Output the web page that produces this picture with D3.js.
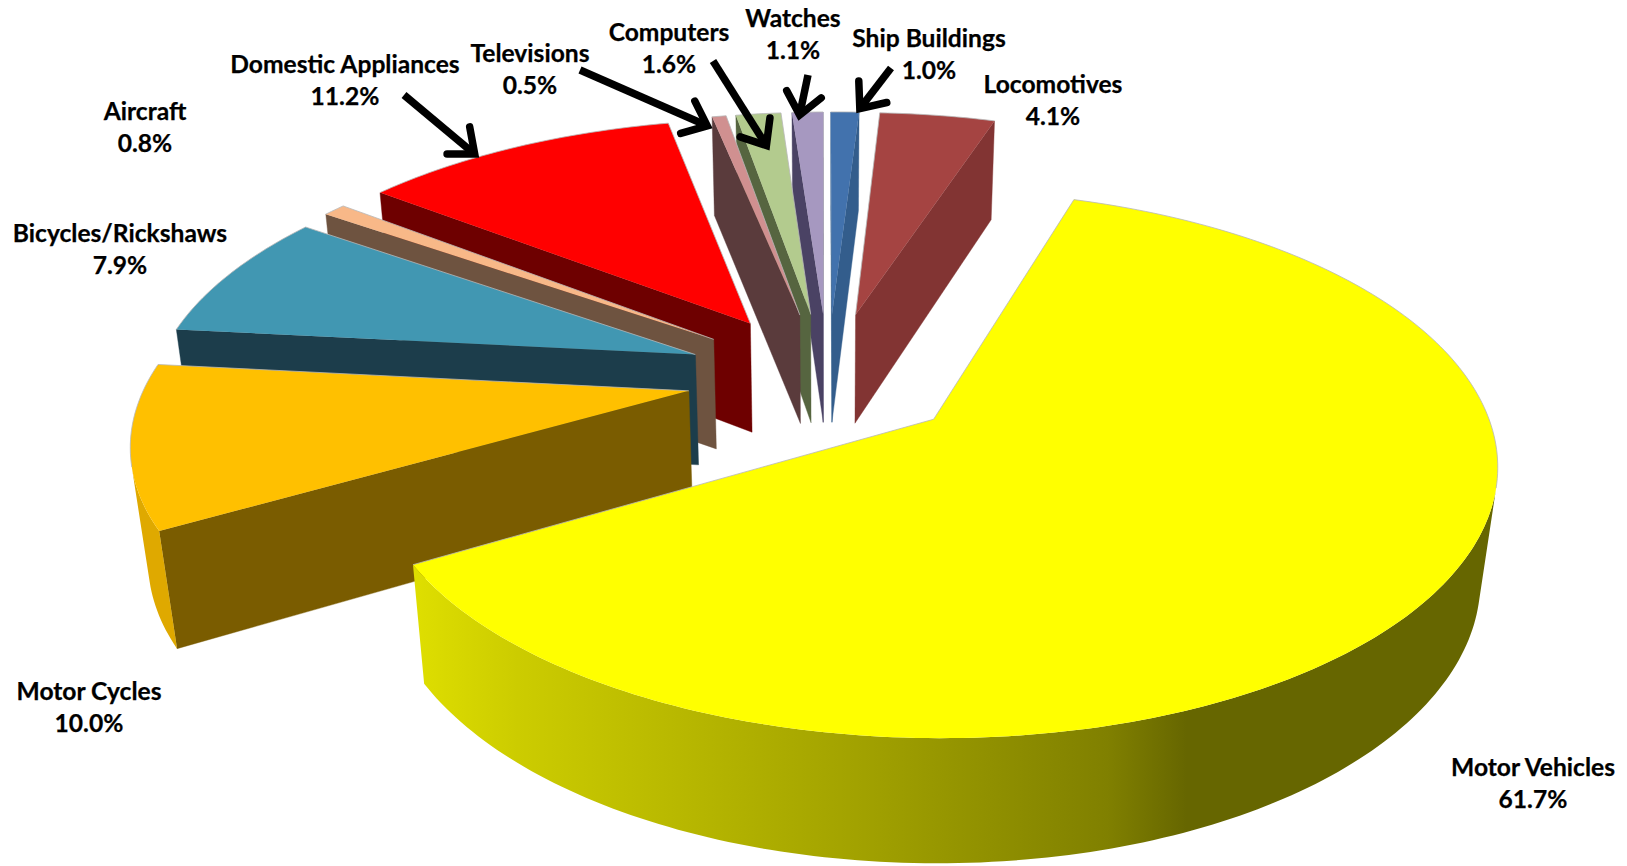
<!DOCTYPE html>
<html>
<head>
<meta charset="utf-8">
<script src="https://cdn.jsdelivr.net/npm/d3@7"></script>
<style>
html,body{margin:0;padding:0;background:#fff;overflow:hidden}
text{font-family:Lato,"Open Sans",sans-serif;font-weight:700;fill:#000;stroke:#000;stroke-width:0.25;text-anchor:middle}
</style>
</head>
<body>
<svg id="chart" width="1627" height="866"></svg>
<script>
// ---- data ----
const categories = ["Motor Vehicles","Motor Cycles","Bicycles/Rickshaws","Aircraft","Domestic Appliances","Televisions","Computers","Watches","Ship Buildings","Locomotives"];
const values = [61.7,10.0,7.9,0.8,11.2,0.5,1.6,1.1,1.0,4.1];

// ---- styles ----
const topColors  = ["#ffff00","#ffc000","#4197b2","#f8b888","#ff0000","#d09090","#b3cb8e","#a698c0","#4272ad","#a54442"];
const wallColors = ["#666600","#7a5c00","#1c3d4b","#6e5340","#6e0000","#5a3b3c","#566540","#4a4264","#335d8c","#823433"];
const rimColors  = ["url(#mvRim)","#dfa900","#2d7086","#b98a66","#b80000","#9a6a6a","#85976a","#7a7090","#305a88","#7a3030"];
const drawOrder  = [9,8,7,6,5,4,3,2,1,0];
const rimStops   = [412,518,872,1108,1187];
const rimStopColors = ["#dfdf00","#cccc00","#a0a000","#808000","#666600"];

// ---- label and arrow layout ----
const labelCx    = [1533,89,120,145,345,530,669,793,929,1053];
const labelBase  = [776,700,242,120,73,62,41,27,47,93];
const arrowTails = [[404,95],[580,70],[713,61],[808,75],[891,68]];
const arrowTips  = [[477,156],[710,127],[768,148],[799,118],[858,111]];

// ---- 3D projection ----
const cx=825, cy=377, a=541, b=252.8, k=0.16, m=0.025, d=114, explode=0.26;
const sliceShear = [0.022,0.012,0.012,0.012,0.012,0.012,0.012,0.012,0.012,0.012];
const sliceNudge = [-2,3,0,-1,-3,0,2,3,3,5];
const firstAngle = 17.6*Math.PI/180;
function project(u,v,z,i){
  const w=1+k*v+m*z;
  return [cx+sliceNudge[i]+a*(u+sliceShear[i]*v)/w, cy+(-b*v+d*z)/w];
}
const shoelace = pts => -d3.polygonArea(pts);

const pie = d3.pie().sort(null).startAngle(firstAngle).endAngle(firstAngle+2*Math.PI);
const arcs = pie(values);
const line = d3.line();
const closed = pts => line(pts)+"Z";

const svg = d3.select("#chart");
const grad = svg.append("defs").append("linearGradient").attr("id","mvRim")
  .attr("gradientUnits","userSpaceOnUse").attr("x1",rimStops[0]).attr("x2",rimStops[4]).attr("y1",0).attr("y2",0);
const stopPos = d3.scaleLinear().domain([rimStops[0],rimStops[4]]).range([0,1]);
rimStops.forEach((s,i)=>grad.append("stop").attr("offset",stopPos(s)).attr("stop-color",rimStopColors[i]));

const gSlices = svg.append("g");

drawOrder.forEach(i=>{
  const s=arcs[i], mid=(s.startAngle+s.endAngle)/2;
  const ox=explode*Math.sin(mid), oy=explode*Math.cos(mid);
  const P=(phi,z)=>project(ox+Math.sin(phi),oy+Math.cos(phi),z,i);
  const A=z=>project(ox,oy,z,i);
  const steps=Math.max(2,Math.ceil((s.endAngle-s.startAngle)/(Math.PI/180)));
  const phis=d3.range(steps+1).map(j=>s.startAngle+(s.endAngle-s.startAngle)*j/steps);
  const g=gSlices.append("g").attr("class","slice").attr("data-name",categories[i]);
  const edges=[];

  // radial walls
  const w1=[P(s.startAngle,0),A(0),A(1),P(s.startAngle,1)];
  const w2=[A(0),P(s.endAngle,0),P(s.endAngle,1),A(1)];
  [w1,w2].forEach((w,n)=>{
    if(shoelace(w)>0){
      g.append("path").attr("d",closed(w)).attr("fill",wallColors[i]).attr("stroke",wallColors[i]).attr("stroke-width",0.4);
    } else {
      edges.push(n===0?[P(s.startAngle,0),A(0)]:[A(0),P(s.endAngle,0)]);
    }
  });
  // outer wall: the contiguous front-facing run of rim segments
  const front=[];
  phis.slice(0,-1).forEach((p,j)=>{
    const q=phis[j+1];
    if(shoelace([P(q,0),P(p,0),P(p,1),P(q,1)])>0){
      if(!front.length) front.push(p);
      front.push(q);
    } else {
      edges.push([P(p,0),P(q,0)]);
    }
  });
  if(front.length>1){
    const poly=[...front.map(p=>P(p,0)),...front.slice().reverse().map(p=>P(p,1))];
    g.append("path").attr("d",closed(poly)).attr("fill",rimColors[i]);
  }
  // top face
  g.append("path").attr("d",closed([A(0),...phis.map(p=>P(p,0))])).attr("fill",topColors[i]);
  // thin light edge on far side
  edges.forEach(e=>{
    g.append("path").attr("d",line(e)).attr("fill","none").attr("stroke","#b8b8b8").attr("stroke-width",0.8);
  });
});

// arrows
const gArrows=svg.append("g");
arrowTails.forEach((t,i)=>{
  const tip=arrowTips[i];
  const ang=Math.atan2(tip[1]-t[1],tip[0]-t[0]);
  const bl=30, sp=36*Math.PI/180;
  const b1=[tip[0]-bl*Math.cos(ang-sp),tip[1]-bl*Math.sin(ang-sp)];
  const b2=[tip[0]-bl*Math.cos(ang+sp),tip[1]-bl*Math.sin(ang+sp)];
  const sh=[tip[0]-3*Math.cos(ang),tip[1]-3*Math.sin(ang)];
  gArrows.append("path").attr("d",line([t,sh])).attr("fill","none").attr("stroke","#000").attr("stroke-width",7.5);
  gArrows.append("path").attr("d",line([b1,sh,b2])).attr("fill","none").attr("stroke","#000").attr("stroke-width",7.5).attr("stroke-linejoin","miter").attr("stroke-linecap","round");
});

// labels
const fmt=d3.format(".1f");
const gLabels=svg.append("g").attr("font-size",24.6);
categories.forEach((c,i)=>{
  gLabels.append("text").attr("x",labelCx[i]).attr("y",labelBase[i]).text(c);
  gLabels.append("text").attr("x",labelCx[i]).attr("y",labelBase[i]+32).text(fmt(values[i])+"%");
});
</script>
</body>
</html>
